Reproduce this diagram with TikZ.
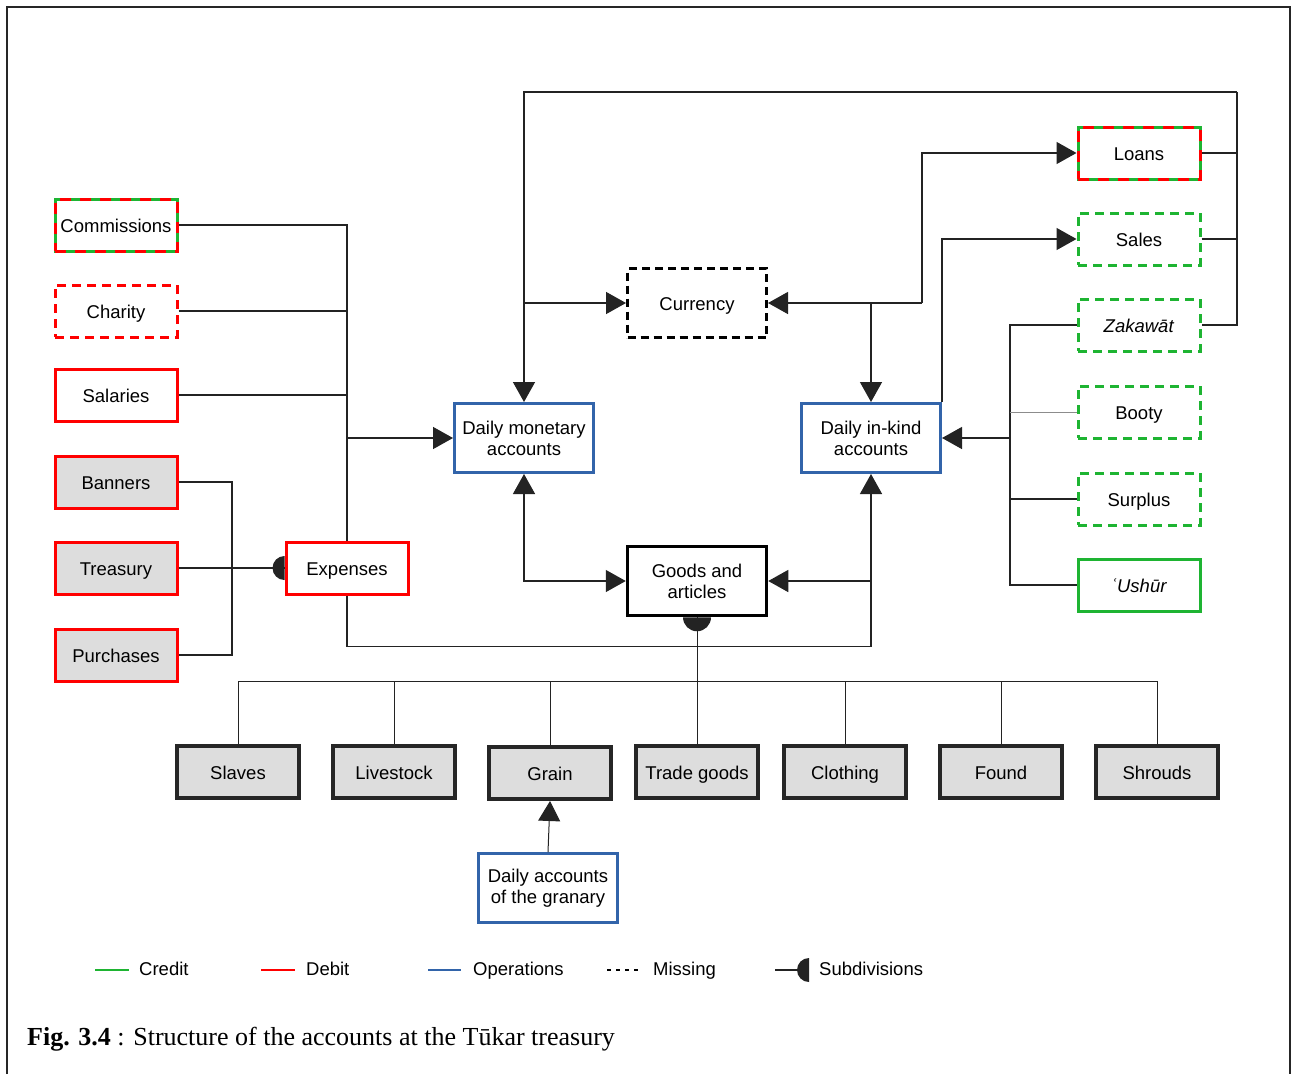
\documentclass[tikz,border=0pt]{standalone}
\usepackage{fontspec}
\setmainfont{Liberation Sans}
\newfontfamily\capfont{Liberation Serif}
\usetikzlibrary{calc,arrows.meta}

\definecolor{credgreen}{RGB}{30,180,50}
\definecolor{debred}{RGB}{255,0,0}
\definecolor{opblue}{RGB}{50,100,170}
\definecolor{boxgray}{RGB}{221,221,221}
\definecolor{wire}{RGB}{35,35,35}

\newcommand{\acctfont}{\fontsize{18.5}{21}\selectfont}

\tikzset{
	acct/.style={line width=3pt, minimum width=122pt, minimum height=52pt, inner sep=1pt, align=center, font=\acctfont},
	oneline/.style={text height=15pt, text depth=0pt},
	credit/.style={acct, oneline, draw=credgreen},
	debit/.style={acct, oneline, draw=debred},
	credmiss/.style={credit, dash pattern=on 9pt off 6pt},
	debmiss/.style={debit, dash pattern=on 9pt off 6pt},
	mixed/.style={credit, postaction={draw=debred, dash pattern=on 11pt off 9pt}},
	oper/.style={acct, draw=opblue, minimum width=139pt, minimum height=69pt},
	missing/.style={acct, oneline, draw=black, minimum width=139pt, minimum height=69pt, dash pattern=on 8pt off 5pt},
	goods/.style={acct, draw=black, line width=3.5pt, minimum width=139pt, minimum height=69pt},
	item/.style={acct, oneline, draw=black!85, line width=4pt, fill=boxgray},
	link/.style={draw=wire, line width=1.4pt},
	tip/.style={link, -{Triangle[length=20pt,width=22pt]}},
	tips/.style={link, {Triangle[length=20pt,width=22pt]}-{Triangle[length=20pt,width=22pt]}},
	key/.style={anchor=base west, font=\acctfont, inner sep=0pt}
}

\begin{document}
\begin{tikzpicture}[x=1pt, y=-1pt]
		%%%%% START %%%%%
		\useasboundingbox (0,0) rectangle (1292,1074);
		\draw[line width=1.6pt, color=black!85] (7,1074) -- (7,7) -- (1290,7) -- (1290,1074);
		
		% left column
		\node[mixed] (comm) at (116,225) {Commissions};
		\node[debmiss] (char) at (116,311) {Charity};
		\node[debit] (sal) at (116,395) {Salaries};
		\node[debit, fill=boxgray] (ban) at (116,482) {Banners};
		\node[debit, fill=boxgray] (tre) at (116,568) {Treasury};
		\node[debit, fill=boxgray] (pur) at (116,655) {Purchases};
		\node[debit] (exp) at (347,568) {Expenses};
		
		% middle
		\node[oper] (dmon) at (524,438) {Daily monetary\\accounts};
		\node[missing] (cur) at (697,303) {Currency};
		\node[oper] (kind) at (871,438) {Daily in-kind\\accounts};
		\node[goods] (gds) at (697,581) {Goods and\\articles};
		
		% right column
		\node[mixed] (loan) at (1139,153) {Loans};
		\node[credmiss] (sale) at (1139,239) {Sales};
		\node[credmiss] (zak) at (1139,325) {\textit{Zakawāt}};
		\node[credmiss] (boo) at (1139,412) {Booty};
		\node[credmiss] (sur) at (1139,499) {Surplus};
		\node[credit] (ush) at (1139,585) {\textit{\char"02BF Ushūr}};
		
		% bottom row
		\node[item] (slv) at (238,772) {Slaves};
		\node[item] (liv) at (394,772) {Livestock};
		\node[item] (grn) at (550,773) {Grain};
		\node[item] (trd) at (697,772) {Trade goods};
		\node[item] (clo) at (845,772) {Clothing};
		\node[item] (fnd) at (1001,772) {Found};
		\node[item] (shr) at (1157,772) {Shrouds};
		\node[oper] (gran) at (548,888) {Daily accounts\\of the granary};
		
		\coordinate (topR) at (1237,92);
		\coordinate (kink) at (922,303);
		\coordinate (rtree) at (1010,438);
		\coordinate (bus) at (697,681);
		\coordinate (lbus) at (232,568);
		
		% expenses into daily monetary
		\draw[link] (comm.east) -- (comm.east -| exp) -- (exp.north);
		\draw[link] (char.east) -- (char.east -| exp);
		\draw[link] (sal.east) -- (sal.east -| exp);
		\draw[tip] (dmon.west -| exp) -- (dmon.west);
		\draw[link] (ban.east) -| (lbus) |- (pur.east);
		\draw[link] (tre.east) -- (exp.west);
		\fill[wire] (exp.west) ++(0pt,12pt) arc[start angle=90, end angle=270, radius=12pt] -- cycle;
		\draw[tip] (exp.south) -- ++(0,51) -| (kind.south);
		
		% loop over the top
		\draw[tip] (topR) -- (topR -| dmon) -- (dmon.north);
		\draw[link] (topR) |- (zak.east);
		\draw[link] (loan.east) -- (loan.east -| topR);
		\draw[link] (sale.east) -- (sale.east -| topR);
		
		% currency
		\draw[tip] (cur.west -| dmon) -- (cur.west);
		\draw[tip] (kink) -- (cur.east);
		\draw[tip] (kink) |- (loan.west);
		\draw[tip] (cur.east -| kind) -- (kind.north);
		\draw[tip] (kind.north east) |- (sale.west);
		
		% right tree
		\draw[link] (zak.west) -| (rtree) |- (ush.west);
		\draw[link, line width=0.8pt, draw=black!45] (boo.west) -- (boo.west -| rtree);
		\draw[link] (sur.west) -- (sur.west -| rtree);
		\draw[tip] (rtree) -- (kind.east);
		
		% goods and articles
		\draw[tips] (dmon.south) |- (gds.west);
		\draw[tip] (gds.east -| kind) -- (gds.east);
		\fill[wire] (gds.south) ++(-14pt,0pt) arc[start angle=180, end angle=360, radius=14pt] -- cycle;
		\draw[link, line width=1pt] (gds.south) -- (bus);
		\draw[link, line width=1pt] (slv.north) |- (bus) -| (shr.north);
		\foreach \n in {liv,grn,trd,clo,fnd}
			\draw[link, line width=1pt] (\n.north) -- (\n.north |- bus);
		\draw[tip, line width=1pt] (gran.north) -- (grn.south);
		
		% legend
		\draw[line width=2.5pt, credgreen] (95,970) -- (129,970);
		\node[key] (kcre) at (139,975) {Credit};
		\draw[line width=2.5pt, debred] (261,970) -- (295,970);
		\node[key] (kdeb) at (306,975) {Debit};
		\draw[line width=2.5pt, opblue] (428,970) -- (461,970);
		\node[key] (kope) at (473,975) {Operations};
		\draw[line width=2.5pt, dash pattern=on 4pt off 5pt] (607,970) -- (641,970);
		\node[key] (kmis) at (653,975) {Missing};
		\draw[link] (775,970) -- (800,970);
		\fill[wire] (809,958) arc[start angle=90, end angle=270, radius=12pt] -- cycle;
		\node[key] (ksub) at (819,975) {Subdivisions};
		
		% caption
		\node[anchor=base west, inner sep=0pt, font={\capfont\fontsize{26}{30}\selectfont}] (cap) at (27,1045) {\textbf{Fig. 3.4} : Structure of the accounts at the Tūkar treasury};
		%%%%% END %%%%%
	\end{tikzpicture}
\end{document}
